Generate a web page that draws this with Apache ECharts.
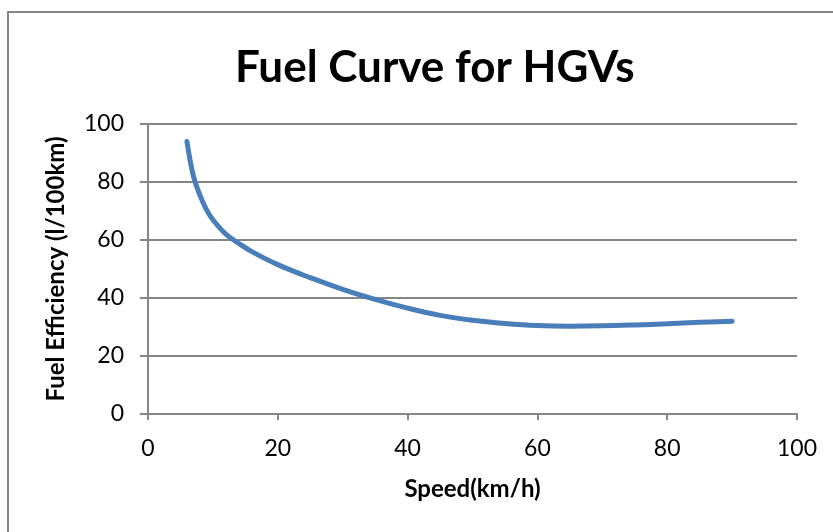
<!DOCTYPE html>
<html>
<head>
<meta charset="utf-8">
<script src="https://cdn.jsdelivr.net/npm/echarts@6/dist/echarts.min.js"></script>
<style>
  html, body { margin: 0; padding: 0; background: #fff; }
  #main { width: 833px; height: 532px; }
</style>
</head>
<body>
<div id="main"></div>
<script>
// speed (km/h) and fuel use (l/100km)
const speeds = [6, 7, 8, 9, 10, 12, 14, 16, 20, 25, 30, 35, 40, 45, 50, 55, 60, 65, 70, 75, 80, 85, 90]
const fuel = [94, 82, 75.5, 70.5, 67, 62, 58.8, 56, 51.5, 47, 43, 39.5, 36.5, 34, 32.3, 31.2, 30.5, 30.3, 30.4, 30.7, 31.1, 31.6, 32]

const gray = '#868686'
const font = 'Lato, Carlito, Calibri, sans-serif'

const chart = echarts.init(document.getElementById('main'))

chart.setOption({
    animation: false,
    title: {
        text: 'Fuel Curve for HGVs',
        left: 230,
        top: 41,
        textStyle: { fontFamily: font, fontWeight: 'bold', fontSize: 44, color: '#000' }
    },
    graphic: [{
        type: 'rect',
        shape: { x: 8, y: 12, width: 900, height: 600 },
        style: { fill: 'none', stroke: gray, lineWidth: 2 },
        z: -1
    }],
    grid: { left: 148, right: 36, top: 124, bottom: 118 },
    xAxis: {
        type: 'value',
        min: 0, max: 100, interval: 20,
        name: 'Speed(km/h)',
        nameLocation: 'middle',
        nameGap: 63,
        nameTextStyle: { fontFamily: font, fontWeight: 'bold', fontSize: 24, color: '#000' },
        axisLine: { lineStyle: { color: gray, width: 2 } },
        axisTick: { show: true, length: 6, lineStyle: { color: gray, width: 2 } },
        axisLabel: { fontFamily: font, fontSize: 23, color: '#000', margin: 23 },
        splitLine: { show: false }
    },
    yAxis: {
        type: 'value',
        min: 0, max: 100, interval: 20,
        name: 'Fuel Efficiency (l/100km)',
        nameLocation: 'middle',
        nameGap: 80,
        nameTextStyle: { fontFamily: font, fontWeight: 'bold', fontSize: 24, color: '#000' },
        axisLine: { show: true, lineStyle: { color: gray, width: 2 } },
        axisTick: { show: true, length: 8, lineStyle: { color: gray, width: 2 } },
        axisLabel: { fontFamily: font, fontSize: 23, color: '#000', margin: 24 },
        splitLine: { lineStyle: { color: gray, width: 2 } }
    },
    series: [{
        type: 'line',
        data: speeds.map((s, i) => [s, fuel[i]]),
        smooth: 0.4,
        showSymbol: false,
        lineStyle: { color: '#4a7ebb', width: 5, cap: 'round' }
    }]
})
</script>
</body>
</html>
